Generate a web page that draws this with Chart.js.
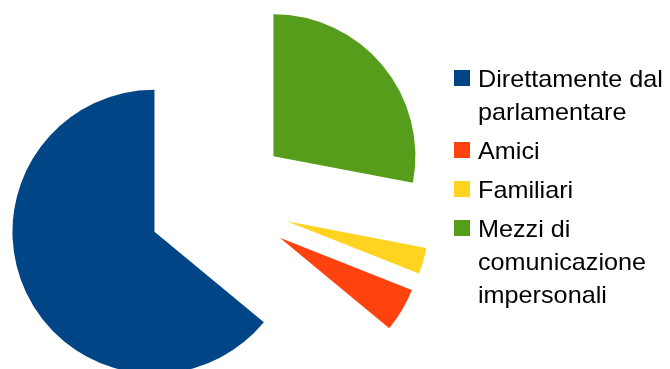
<!DOCTYPE html>
<html>
<head>
  <title>Fonti di informazione</title>
  <script src="https://cdn.jsdelivr.net/npm/chart.js"></script>
  <style>
    body { margin: 0; overflow: hidden; background: #fff; }
    #wrap { position: relative; width: 670px; height: 369px; }
    #pie { position: absolute; left: 0; top: 0; }
    #legend {
      position: absolute; left: 454px; top: 62px;
      font-family: "Liberation Sans", Arial, sans-serif;
      font-size: 24px; line-height: 33px; color: #000;
    }
    .item { display: flex; align-items: flex-start; margin-bottom: 6px; }
    .box { width: 16px; height: 16px; margin-top: 7.5px; flex: none; }
    .txt { width: 182px; margin-left: 8px; transform: scaleX(1.05); transform-origin: left top; }
  </style>
</head>
<body>
<div id="wrap">
  <canvas id="pie" width="670" height="369"></canvas>
  <div id="legend"></div>
</div>

<script>
  // data, in legend order
  const labels = ['Direttamente dal parlamentare', 'Amici', 'Familiari', 'Mezzi di comunicazione impersonali'];
  const values = [64, 5, 3, 28];
  const colors = ['#004586', '#ff420e', '#ffd320', '#579d1c'];

  const EXPLODE = 71; // px each slice is pulled out from the centre

  // legend (html, so the text wraps like the original)
  const legend = document.getElementById('legend');
  labels.forEach((lab, i) => {
    const row = document.createElement('div');
    row.className = 'item';
    row.innerHTML = '<div class="box" style="background:' + colors[i] + '"></div><div class="txt">' + lab + '</div>';
    legend.appendChild(row);
  });

  // move every arc outwards along its bisector
  const explodePlugin = {
    id: 'explode',
    afterDatasetUpdate(chart, args) {
      args.meta.data.forEach(arc => {
        const mid = (arc.startAngle + arc.endAngle) / 2;
        arc.x += Math.cos(mid) * EXPLODE;
        arc.y += Math.sin(mid) * EXPLODE;
      });
    }
  };

  // the original runs counter-clockwise from 12 o'clock, chart.js clockwise -> reverse
  new Chart(document.getElementById('pie'), {
    type: 'pie',
    data: {
      labels: labels.slice().reverse(),
      datasets: [{
        data: values.slice().reverse(),
        backgroundColor: colors.slice().reverse(),
        borderWidth: 0
      }]
    },
    options: {
      responsive: false,
      animation: false,
      radius: 142,
      layout: { padding: { left: 0, right: 232.6, top: 34, bottom: 0 } },
      plugins: {
        legend: { display: false },
        tooltip: { enabled: false }
      }
    },
    plugins: [explodePlugin]
  });
</script>
</body>
</html>
